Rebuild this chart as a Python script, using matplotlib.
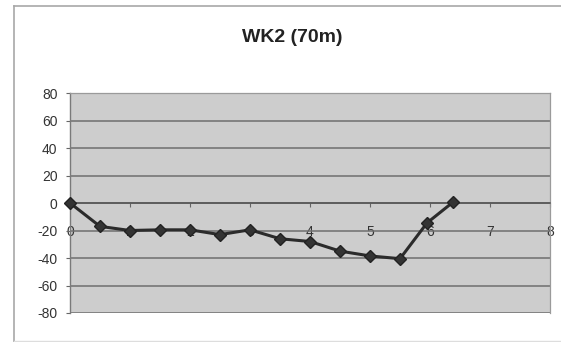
import matplotlib
matplotlib.use("Agg")
import matplotlib.pyplot as plt
from matplotlib.lines import Line2D

# Section profile: distance vs. depth
distance = [0.0, 0.5, 1.0, 1.5, 2.0, 2.5, 3.0, 3.5, 4.0, 4.5, 5.0, 5.5, 5.95, 6.38]
depth = [0, -17, -20, -19.5, -19.5, -23, -19.5, -26, -28, -35, -38.5, -40.5, -14.5, 0.5]

x_ticks = [0, 1, 2, 3, 4, 5, 6, 7, 8]
y_ticks = [-80, -60, -40, -20, 0, 20, 40, 60, 80]
title = "WK2 (70m)"

plt.rcParams["font.family"] = ["Liberation Sans", "DejaVu Sans"]

W, H = 561, 342
fig = plt.figure(figsize=(W / 100, H / 100), dpi=100)
fig.patch.set_facecolor("white")

# chart frame
frame_col = "#a8a8a8"
fig.add_artist(Line2D([14 / W, 14 / W], [0, 1 - 6 / H], transform=fig.transFigure,
                      color=frame_col, lw=1.2))
fig.add_artist(Line2D([14 / W, 1], [1 - 6 / H, 1 - 6 / H], transform=fig.transFigure,
                      color=frame_col, lw=1.2))
fig.add_artist(Line2D([14 / W, 1], [1.5 / H, 1.5 / H], transform=fig.transFigure,
                      color="#dddddd", lw=1.0))

left, right, top, bottom = 70, 550, 93, 313
ax = fig.add_axes([left / W, 1 - bottom / H, (right - left) / W, (bottom - top) / H])
ax.set_facecolor("#cdcdcd")

ax.set_xlim(0, 8)
ax.set_ylim(-80, 80)
ax.set_xticks(x_ticks)
ax.set_yticks(y_ticks)
ax.set_xticklabels([str(v) for v in x_ticks])
ax.set_yticklabels([str(v) for v in y_ticks])

ax.yaxis.grid(True, color="#6e6e6e", lw=1.1)
ax.set_axisbelow(True)

for s in ("top", "right"):
    ax.spines[s].set_color("#9a9a9a")
    ax.spines[s].set_linewidth(0.9)
ax.spines["left"].set_color("#7a7a7a")
ax.spines["left"].set_linewidth(1.0)
ax.spines["bottom"].set_position(("data", 0))
ax.spines["bottom"].set_color("#555555")
ax.spines["bottom"].set_linewidth(1.1)

ax.tick_params(axis="y", length=3, width=0.8, color="#666666", pad=6,
               labelsize=10, labelcolor="#333333")
ax.tick_params(axis="x", length=3, width=0.8, color="#666666", pad=13,
               labelsize=10, labelcolor="#333333")

ax.plot(distance, depth, color="#2b2b2b", lw=2.2, marker="D", markersize=6.5,
        markerfacecolor="#333333", markeredgecolor="#222222", zorder=5,
        clip_on=False)

fig.text(292 / W, 1 - 37 / H, title, ha="center", va="center",
         fontsize=14, fontweight="bold", color="#222222")

fig.savefig("out.png", dpi=100, facecolor=fig.get_facecolor())
